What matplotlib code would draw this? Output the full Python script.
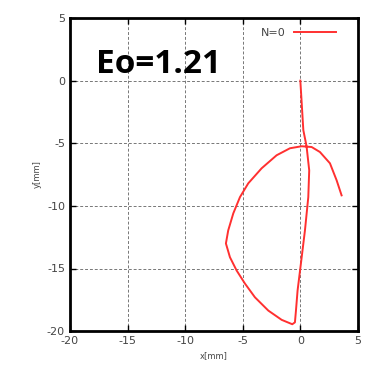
import matplotlib
matplotlib.use('Agg')
import matplotlib.pyplot as plt

plt.rcParams['axes.unicode_minus'] = False

# trajectory
x_mm = [0.0, 0.26, 0.54, 0.77, 0.69, 0.4, 0.05, -0.24, -0.38, -0.47,
        -0.7, -1.62, -2.78, -3.94, -4.81, -5.53, -6.11, -6.46, -6.26, -5.82,
        -5.24, -4.52, -3.36, -2.06, -0.9, 0.11, 0.98, 1.7, 2.57, 3.15, 3.58]
y_mm = [0.0, -3.96, -5.24, -7.16, -9.3, -11.96, -14.6, -16.76, -18.36, -19.3,
        -19.45, -19.1, -18.36, -17.3, -16.2, -15.16, -14.1, -13.0, -11.96, -10.6,
        -9.3, -8.2, -7.0, -5.96, -5.4, -5.24, -5.3, -5.7, -6.6, -7.96, -9.16]

ticks = [-20, -15, -10, -5, 0, 5]

fig = plt.figure(figsize=(3.66, 3.75), dpi=100)
ax = fig.add_axes([0.191, 0.117, 0.787, 0.835])

ax.plot(x_mm, y_mm, color='#ff3030', lw=1.4, label='N=0')

ax.set_xlim(-20, 5)
ax.set_ylim(-20, 5)
ax.set_xticks(ticks)
ax.set_yticks(ticks)
ax.grid(True, color='#777777', linestyle=(0, (3, 2)), lw=0.7)
ax.tick_params(direction='in', top=True, right=True, length=4,
               labelsize=8, labelcolor='#444444', width=1)
for s in ax.spines.values():
    s.set_linewidth(2)

ax.set_xlabel('x[mm]', fontsize=6, color='#444444')
ax.set_ylabel('y[mm]', fontsize=6, color='#444444')

leg = ax.legend(loc='upper right', bbox_to_anchor=(0.96, 1.0), frameon=False,
                fontsize=8, markerfirst=False, handlelength=3.8)
for t in leg.get_texts():
    t.set_color('#444444')

fig.text(0.263, 0.829, 'Eo=1.21', fontsize=24, fontweight='bold',
         family='Open Sans', va='center')

fig.savefig('out.png', dpi=100)
